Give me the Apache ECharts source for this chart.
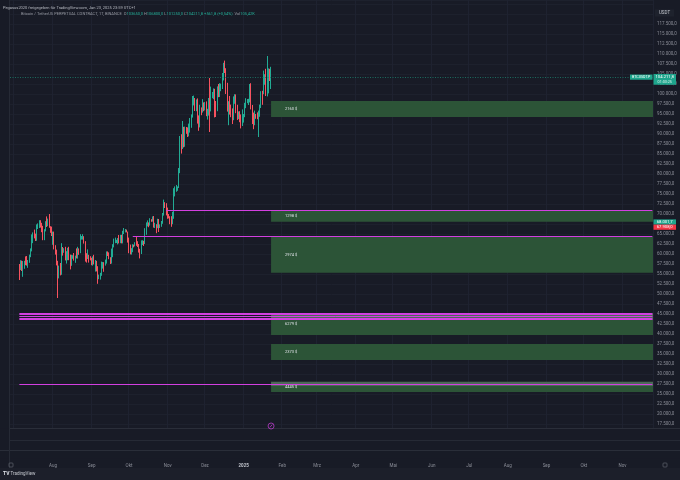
<!DOCTYPE html>
<html><head><meta charset="utf-8">
<script src="https://cdn.jsdelivr.net/npm/echarts@6/dist/echarts.min.js"></script>
<style>html,body{margin:0;padding:0;background:#181b26;}#c{width:680px;height:480px;}</style>
</head><body><div id="c"></div>
<script>
// ---- axis range / categories ----
const axisStart = [2024, 5, 28];      // first day shown on the time axis (Jun 28, 2024)
const axisDays = 516;                  // through Nov 25, 2025
const firstCandle = '2024-07-05';
const monthNames = ['Jan','Feb','Mrz','Apr','Mai','Jun','Jul','Aug','Sep','Okt','Nov','Dez'];

// ---- daily OHLC, Jul 5 2024 .. Jan 23 2025 ----
const opens = [
57000,56650,58250,55850,56700,58050,57750,57350,57900,59250,60800,64750,65050,64100,63950,66650,67100,68150,67550,65900,65350,65750,67900,67850,68250,66800,66200,
64600,65350,61450,60650,58100,54000,56000,55100,61700,60850,60900,58700,59350,60600,58700,57550,58900,59450,58400,59450,59000,61150,60350,64000,64200,64250,62850,59400,59000,59350,59100,
58950,57300,59100,57450,57950,56150,53950,54150,54850,57050,57650,57350,58150,60550,60000,59150,58200,60300,61750,62950,63200,63350,63600,63350,64300,63150,65200,65800,65850,65600,
63300,60800,60650,60750,62100,62050,62800,62200,62150,60600,60300,62450,63200,62850,66050,67050,67600,67400,68400,68350,69000,67350,67350,66650,68150,66600,67000,68000,69900,72700,72300,
70200,69500,69350,68750,67800,69350,75600,75900,76550,76650,80350,88700,87950,90500,87350,91050,90600,89850,90450,92300,94300,98350,98900,97700,97900,93050,91950,95900,95600,97450,
96400,97200,95850,96000,98750,96950,99850,99900,101100,97400,96650,101150,100000,101400,101400,104450,106050,105950,100200,97450,97750,97200,95100,94650,98650,99400,95800,94300,95150,93550,92650,
93400,94400,96850,98100,98200,98300,102200,96900,95000,92500,94700,94550,94500,94500,96500,100500,99950,104050,104450,101100,102000,106100,103650
];
const highs = [
57500,58450,58350,58250,58300,59400,59500,58500,59850,61400,64900,65400,66100,65100,67400,67650,68450,68450,67800,67050,66200,68200,69400,68850,70000,66950,66850,
65600,65600,62200,61100,58300,57100,57750,62700,61750,61450,61800,60700,61550,61800,59850,59800,59700,60250,59600,61400,61800,61400,64950,64500,64950,64450,63200,60200,61150,59800,59450,
59050,59400,59800,58500,58300,56950,54850,55300,58100,58000,57950,58600,60650,60650,60400,59200,61350,62450,63850,64100,63550,64000,64750,64800,64800,65800,66500,66250,66100,65600,
64100,62350,61450,62450,62350,62950,64450,63200,62500,61300,63400,63450,63300,66450,67900,68400,67900,68950,68700,69400,69500,67800,67450,68800,68750,67400,68250,70250,73600,72950,72700,
71600,70000,69450,69450,70550,76450,76900,77250,76900,81500,89500,89950,93250,91800,91850,91750,91650,92600,94000,94900,99500,99600,99000,98650,98900,94650,97300,96650,98700,97900,
98000,98150,96300,99000,104000,101850,100500,101400,101300,98250,101900,102500,102700,102600,105250,107800,108350,106450,102800,98200,99500,97350,96400,99400,99950,99900,97300,95650,95700,94900,96150,
95000,97800,98950,98750,98800,102500,102700,97250,95350,95850,95000,95400,95850,97350,100700,100800,105850,104950,106300,109500,106400,106300,106800
];
const lows = [
53500,56000,55750,54300,56300,57200,57100,56550,57800,59200,60650,62700,63900,63250,63300,66250,66500,66600,65450,63450,63450,65650,66750,66950,66550,65300,64500,
62300,61150,59850,57150,49000,53900,54650,54800,59600,60300,58400,57600,58450,58450,56150,57050,58800,58350,57800,58900,58850,59800,60200,63600,63600,62600,58100,57850,58750,57850,58400,
57200,57100,57400,55600,55650,52550,53700,53600,54550,56350,55550,57100,57600,59500,58700,57500,57600,59200,61650,62700,62750,62400,62650,62700,62650,62650,65000,65400,65400,62850,
60200,59900,59850,60450,61650,61900,62050,61750,60350,58900,60000,62250,62000,62500,64800,66900,66700,67100,68050,68100,66600,66500,65200,66450,65500,66500,66800,67550,69600,71500,69650,
68800,68900,67450,66800,67450,68800,74400,75550,75800,76500,80200,85100,86250,86650,86800,90050,89250,89400,90350,91550,94100,97150,95750,95700,92600,90800,91650,94700,95350,95700,
95900,94450,93600,94600,90500,95650,98950,98700,94150,94250,95700,99200,99250,100700,101250,103400,105250,100000,95600,92200,94850,94200,92500,93450,97550,95200,93500,93750,92950,91400,92000,
92850,94200,96450,97700,97250,97900,96150,92500,91200,92200,93800,93700,89250,94300,96500,97300,99950,102300,99500,99400,100150,103250,101250
];
const closes = [
56650,58250,55850,56700,58050,57750,57350,57900,59250,60800,64750,65050,64100,63950,66650,67100,68150,67550,65900,65350,65750,67900,67850,68250,66800,66200,64600,
65350,61450,60650,58100,54000,56000,55100,61700,60850,60900,58700,59350,60600,58700,57550,58900,59450,58400,59450,59000,61150,60350,64000,64200,64250,62850,59400,59000,59350,59100,58950,
57300,59100,57450,57950,56150,53950,54150,54850,57050,57650,57350,58150,60550,60000,59150,58200,60300,61750,62950,63200,63350,63600,63350,64300,63150,65200,65800,65850,65600,63300,
60800,60650,60750,62100,62050,62800,62200,62150,60600,60300,62450,63200,62850,66050,67050,67600,67400,68400,68350,69000,67350,67350,66650,68150,66600,67000,68000,69900,72700,72300,70200,
69500,69350,68750,67800,69350,75600,75900,76550,76650,80350,88700,87950,90500,87350,91050,90600,89850,90450,92300,94300,98350,98900,97700,97900,93050,91950,95900,95600,97450,96400,
97200,95850,96000,98750,96950,99850,99900,101100,97400,96650,101150,100000,101400,101400,104450,106050,105950,100200,97450,97750,97200,95100,94650,98650,99400,95800,94300,95150,93550,92650,93400,
94400,96850,98100,98200,98300,102200,96900,95000,92500,94700,94550,94500,94500,96500,100500,99950,104050,104450,101100,102000,106100,103650,104211.8
];

// ---- drawn zones (green boxes) ----
const zoneStart = '2025-01-23';
const zoneTops    = [98250, 70800, 64300, 45200, 37500, 28050];
const zoneBottoms = [94250, 68050, 55300, 39750, 33500, 25500];
const zoneLabels  = ['2160 $', '1298 $', '2974 $', '6279 $', '2373 $', '4445 $'];
const bandTops    = [45175, 28075];
const bandBottoms = [43500, 27000];

// ---- magenta horizontal levels ----
const lineLevels = [71000, 64375, 45150, 44450, 43850, 27325];
const lineStarts = ['2024-10-31', '2024-10-04', '2024-07-05', '2024-07-05', '2024-07-05', '2024-07-05'];
const lineWidthsStyle = [1.2, 1.2, 2, 1, 2, 1.2];

// ---- price tags ----
const tagValues = [68001.7, 67908.0];

// ------------------------------------------------------------
const cats = [];
const t0 = Date.UTC(axisStart[0], axisStart[1], axisStart[2]);
for (let i = 0; i < axisDays; i++) cats.push(new Date(t0 + i * 864e5).toISOString().slice(0, 10));
const off = cats.indexOf(firstCandle);
const candleData = closes.map((c, i) => [off + i, opens[i], c, lows[i], highs[i]]);
const lastCat = cats[cats.length - 1];

function fmt(v) {
  const s = Math.abs(v).toFixed(1).split('.');
  return (v < 0 ? '-' : '') + s[0].replace(/\B(?=(\d{3})+(?!\d))/g, '.') + ',' + s[1];
}
const FONT = 'Roboto, "Noto Sans", sans-serif';
const MAG = '#d23fe0';
const isMonthStart = (i, v) => v.slice(8) === '01';

const areas = zoneTops.map((t, i) => [
  { xAxis: zoneStart, yAxis: t, itemStyle: { color: '#2c5437' },
    label: { show: true, position: 'insideLeft', distance: 14, formatter: zoneLabels[i], color: '#dfe2e8', fontSize: 4, fontFamily: FONT } },
  { yAxis: zoneBottoms[i] }
]).concat(bandTops.map((t, i) => [
  { xAxis: zoneStart, yAxis: t, itemStyle: { color: 'rgba(150,150,160,0.32)' }, label: { show: false } },
  { yAxis: bandBottoms[i] }
]));

const lines = lineLevels.map((lv, i) => {
  const ls = { color: MAG, width: lineWidthsStyle[i], type: 'solid', opacity: 1 };
  return [{ coord: [lineStarts[i], lv], lineStyle: ls }, { coord: [lastCat, lv], lineStyle: ls }];
});
const lastClose = closes[closes.length - 1];

const chart = echarts.init(document.getElementById('c'));
chart.setOption({
  backgroundColor: '#181b26',
  animation: false,
  grid: { left: 10, right: 27, top: 0, bottom: 46, containLabel: false },
  xAxis: {
    type: 'category', data: cats, boundaryGap: true,
    axisLine: { show: false }, axisTick: { show: false },
    axisLabel: {
      interval: isMonthStart, margin: 29, color: '#8b8e98', fontSize: 4.5, fontFamily: FONT,
      formatter: (v, i) => {
        if (i < off) return '';
        const m = +v.slice(5, 7) - 1;
        return m === 0 ? '{y|' + v.slice(0, 4) + '}' : monthNames[m];
      },
      rich: { y: { fontWeight: 'bold', color: '#c3c6ce', fontSize: 4.5, fontFamily: FONT } }
    },
    splitLine: { show: true, interval: isMonthStart, lineStyle: { color: '#1e2230', width: 1 } }
  },
  yAxis: {
    type: 'value', position: 'right', min: 15000, max: 123500, interval: 2500,
    axisLine: { show: false }, axisTick: { show: false },
    axisLabel: { margin: 4, color: '#8b8e98', fontSize: 4.5, fontFamily: FONT,
      formatter: v => (v >= 17500 && v <= 117500) ? fmt(v) : '' },
    splitLine: { lineStyle: { color: '#1d212d', width: 1 } }
  },
  series: [{
    type: 'candlestick', name: 'BTCUSDT.P', data: candleData,
    encode: { x: 0, y: [1, 2, 3, 4] }, barWidth: '75%',
    itemStyle: { color: '#22ab94', color0: '#f7525f', borderColor: '#22ab94', borderColor0: '#f7525f', borderWidth: 1 },
    markArea: { silent: true, data: areas },
    markLine: { silent: true, symbol: ['none', 'none'], label: { show: false },
      lineStyle: { color: MAG, type: 'solid', width: 1.2 }, emphasis: { disabled: true }, data: lines }
  }]
});

const yLast = chart.convertToPixel({ yAxisIndex: 0 }, lastClose);
const yTag = chart.convertToPixel({ yAxisIndex: 0 }, tagValues[0]);
const xZone = chart.convertToPixel({ xAxisIndex: 0 }, zoneStart);
const txt = (x, y, s, size, fill, align, extra) => Object.assign({
  type: 'text', x: x, y: y, z: 120,
  style: Object.assign({ text: s, fill: fill, fontSize: size, fontFamily: FONT, align: align || 'left', verticalAlign: 'middle' }, extra || {})
});
const rect = (x, y, w, h, fill, z) => ({ type: 'rect', z: z || 110, shape: { x: x, y: y, width: w, height: h }, style: { fill: fill } });
const hline = (x1, x2, y, c) => ({ type: 'line', z: 115, shape: { x1: x1, y1: y, x2: x2, y2: y }, style: { stroke: c, lineWidth: 1 } });

chart.setOption({
  graphic: [
    // last price line
    { type: 'line', z: 20, shape: { x1: 10, y1: Math.round(yLast) + 0.5, x2: 653, y2: Math.round(yLast) + 0.5 },
      style: { stroke: '#1d7f6e', lineWidth: 1, lineDash: [1, 1.5], opacity: 0.8 } },
    // lower panes
    rect(0, 428.5, 680, 30, '#181b26', 100),
    hline(10, 680, 428.5, '#2a2e39'),
    hline(10, 680, 440.5, '#262a35'),
    hline(0, 680, 450.5, '#2a2e39'),
    { type: 'line', z: 115, shape: { x1: 9.5, y1: 0, x2: 9.5, y2: 468 }, style: { stroke: '#262a35', lineWidth: 1 } },
    rect(0, 468, 680, 12, '#1c1f2a', 100),
    txt(3, 474, '{b|TV} TradingView', 4.5, '#c9ccd3', 'left', { rich: { b: { fontWeight: 'bold', fontSize: 5, fill: '#e0e3ea', fontFamily: FONT } } }),
    // axis corner icons
    { type: 'rect', z: 118, shape: { x: 9, y: 463, width: 4, height: 4, r: 0.8 }, style: { fill: 'none', stroke: '#6f737d', lineWidth: 0.6 } },
    { type: 'rect', z: 118, shape: { x: 663, y: 463, width: 4, height: 4, r: 0.8 }, style: { fill: 'none', stroke: '#6f737d', lineWidth: 0.6 } },
    // event icon
    { type: 'circle', z: 118, shape: { cx: xZone, cy: 426, r: 3 }, style: { fill: 'none', stroke: '#b53bc6', lineWidth: 0.8 } },
    { type: 'line', z: 118, shape: { x1: xZone - 1.2, y1: 427.4, x2: xZone + 1.2, y2: 424.6 }, style: { stroke: '#b53bc6', lineWidth: 0.8 } },
    // header
    txt(3, 8, 'Pegasus2020 freigegeben für TradingView.com, Jan 23, 2025 23:59 UTC+1', 4, '#b7bac2'),
    txt(21, 13.5, '{g|Bitcoin / TetherUS PERPETUAL CONTRACT, 1T, BINANCE  }{g|O}{v|103650,0 }{g|H}{v|106800,0 }{g|L}{v|101250,0 }{g|C}{v|104211,8 +561,8 (+0,54%)  }{g|Vol}{v|105,42K}',
        4, '#9598a1', 'left', { rich: { g: { fill: '#9598a1', fontSize: 4, fontFamily: FONT }, v: { fill: '#22ab94', fontSize: 4, fontFamily: FONT } } }),
    // right scale header
    rect(655, 9.5, 19, 7, '#1e222d', 105),
    txt(664.5, 13, 'USDT', 4.5, '#c3c6ce', 'center'),
    // last price tags
    rect(630, yLast - 2.6, 22.5, 5.2, '#1ea58c'),
    txt(641.2, yLast, 'BTCUSDT.P', 3.6, '#ffffff', 'center'),
    rect(653.5, yLast - 3.2, 22.5, 10.8, '#1ea58c'),
    txt(664.7, yLast - 0.4, fmt(lastClose), 4.2, '#ffffff', 'center'),
    txt(664.7, yLast + 4.6, '01:03:25', 3.7, '#e6f5f1', 'center'),
    // indicator tags
    rect(653.5, yTag - 2.6, 22.5, 5.2, '#1ea58c'),
    txt(664.7, yTag, fmt(tagValues[0]), 4.2, '#ffffff', 'center'),
    rect(653.5, yTag + 2.6, 22.5, 5.2, '#f23645'),
    txt(664.7, yTag + 5.2, fmt(tagValues[1]), 4.2, '#ffffff', 'center')
  ]
});
</script>
</body></html>
